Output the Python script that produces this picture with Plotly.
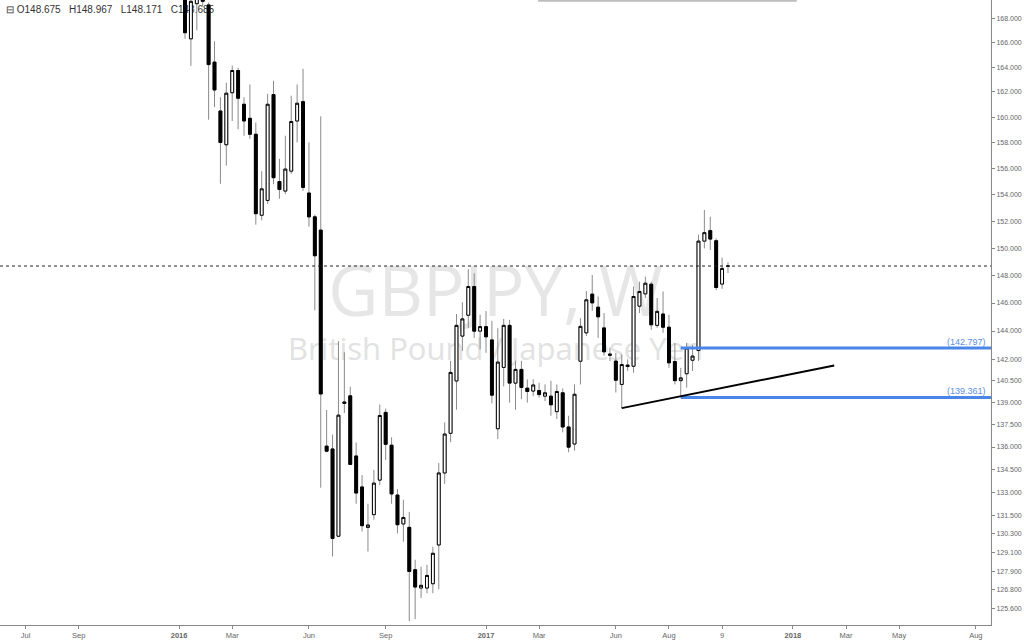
import math
import pandas as pd
import plotly.graph_objects as go

# ---------------- data (weekly GBPJPY candles) ----------------
first_week = "2016-01-11"

opens = [171.0, 166.3, 169.2, 170.1, 169.1, 164.4, 160.49, 157.84, 161.94, 163.72,
         161.02, 159.91, 158.66, 152.45, 153.57, 161.79, 155.0, 154.28, 155.8, 159.7,
         161.23, 154.13, 152.33, 151.34, 136.06, 135.87, 130.15, 138.95, 139.47, 135.4,
         133.35, 130.72, 131.54, 133.8, 138.34, 136.12, 132.82, 130.94, 130.72, 128.02,
         126.87, 126.87, 127.14, 129.59, 134.27, 136.92, 140.5, 143.64, 145.12, 147.19,
         143.99, 144.31, 143.37, 137.23, 141.44, 144.4, 140.35, 141.3, 140.0, 139.8,
         139.84, 139.45, 139.45, 138.39, 139.68, 137.35, 136.2, 141.87, 143.87, 146.64,
         145.7, 144.22, 142.28, 141.88, 140.26, 141.5, 141.52, 145.77, 146.66, 147.36,
         144.4, 145.21, 144.27, 141.85, 140.52, 141.0, 141.94, 142.62, 150.52, 151.3,
         150.55, 147.37, 148.675]

highs = [171.5, 169.8, 170.4, 170.6, 169.3, 166.1, 161.58, 162.74, 164.12, 163.94,
         161.58, 162.6, 159.58, 155.8, 161.85, 162.9, 156.75, 158.54, 161.7, 162.6,
         163.86, 158.02, 152.5, 160.07, 138.5, 136.83, 143.28, 142.5, 140.1, 136.3,
         134.13, 132.25, 134.46, 138.88, 138.6, 136.65, 133.21, 132.51, 131.72, 128.65,
         128.21, 128.33, 129.48, 134.93, 137.66, 141.9, 145.21, 146.06, 148.46, 148.15,
         145.16, 145.42, 144.72, 144.2, 144.86, 144.79, 141.9, 141.9, 140.61, 140.61,
         140.38, 140.26, 140.5, 140.26, 139.98, 138.11, 140.26, 144.91, 146.87, 148.03,
         146.47, 145.28, 142.82, 142.46, 142.34, 142.0, 147.19, 147.54, 147.91, 147.54,
         146.36, 146.83, 145.16, 143.16, 141.41, 143.16, 143.02, 151.0, 152.85, 152.34,
         150.72, 149.3, 148.967]

lows = [166.3, 164.1, 167.0, 169.0, 159.8, 160.8, 154.83, 156.22, 159.7, 159.05,
        158.54, 158.3, 151.75, 152.07, 153.3, 154.8, 153.7, 154.05, 155.6, 158.02,
        154.3, 151.6, 145.48, 133.3, 135.65, 128.86, 130.1, 138.3, 134.8, 132.25,
        130.45, 129.17, 131.21, 133.47, 135.13, 132.25, 130.33, 129.8, 124.82, 124.94,
        126.25, 126.54, 126.54, 126.79, 133.55, 136.33, 138.52, 142.6, 144.22, 143.51,
        142.69, 142.46, 138.95, 136.54, 140.12, 139.01, 138.52, 139.24, 139.01, 139.45,
        139.35, 139.11, 138.11, 137.89, 136.99, 135.65, 135.76, 140.26, 143.64, 145.44,
        143.51, 142.26, 141.88, 139.7, 138.63, 141.2, 141.07, 145.28, 146.36, 144.09,
        144.22, 143.87, 141.41, 140.26, 139.36, 140.04, 141.19, 141.9, 149.98, 149.86,
        146.93, 147.02, 148.171]

closes = [166.8, 169.4, 169.9, 169.4, 164.2, 162.16, 158.02, 161.9, 163.72, 161.5,
          159.7, 158.66, 152.57, 154.45, 161.02, 155.3, 154.4, 155.96, 159.66, 161.1,
          154.56, 152.33, 149.44, 139.6, 135.72, 130.01, 138.15, 139.05, 134.84, 132.95,
          130.83, 130.87, 133.6, 138.13, 136.18, 132.89, 130.89, 131.36, 127.91, 126.93,
          127.04, 127.66, 129.06, 134.27, 136.87, 141.09, 144.4, 144.86, 147.19, 143.99,
          144.31, 143.59, 139.52, 141.81, 144.4, 140.35, 141.3, 140.05, 139.77, 140.22,
          139.56, 139.68, 138.86, 139.77, 137.35, 135.99, 139.58, 144.33, 146.23, 146.01,
          145.01, 142.53, 142.37, 140.55, 141.64, 141.6, 146.47, 146.83, 147.43, 144.44,
          145.4, 144.27, 141.76, 140.52, 140.71, 142.79, 142.23, 150.52, 151.15, 150.67,
          147.12, 148.51, 148.685]

# horizontal levels and trendline
level_start = "2017-08-21"
levels = [142.797, 139.361]
level_labels = ["(142.797)", "(139.361)"]
trend_dates = ["2017-06-12", "2018-02-19"]
trend_prices = [138.63, 141.58]
last_price = 148.685
ohlc_text = "\u229f O148.675   H148.967   L148.171   C148.685"

# axis ticks
y_ticks = [168.0, 166.0, 164.0, 162.0, 160.0, 158.0, 156.0, 154.0, 152.0, 150.0, 148.0,
           146.0, 144.0, 142.0, 140.5, 139.0, 137.5, 136.0, 134.5, 133.0, 131.5, 130.3,
           129.1, 127.9, 126.8, 125.6]
x_tick_dates = ["2015-07-06", "2015-09-07", "2016-01-04", "2016-03-07", "2016-06-06",
                "2016-09-05", "2017-01-02", "2017-03-06", "2017-06-05", "2017-08-07",
                "2017-10-09", "2018-01-01", "2018-03-05", "2018-05-07", "2018-08-06"]
x_tick_labels = ["Jul", "Sep", "<b>2016</b>", "Mar", "Jun", "Sep", "<b>2017</b>", "Mar", "Jun",
                 "Aug", "9", "<b>2018</b>", "Mar", "May", "Aug"]

x_range = ["2015-06-05 14:00", "2018-08-23 23:00"]
y_range = [124.58, 169.51]

# ---------------- figure ----------------
dates = pd.date_range(first_week, periods=len(opens), freq="7D")
body_hi = [max(o, c) for o, c in zip(opens, closes)]
body_lo = [min(o, c) for o, c in zip(opens, closes)]

fig = go.Figure()

# wicks (grey)
fig.add_trace(go.Candlestick(
    x=dates, open=opens, high=highs, low=lows, close=closes,
    increasing=dict(line=dict(color="#8a8a8a", width=1), fillcolor="#ffffff"),
    decreasing=dict(line=dict(color="#8a8a8a", width=1), fillcolor="#000000"),
    whiskerwidth=0, showlegend=False, hoverinfo="skip"))

# bodies (black outline)
fig.add_trace(go.Candlestick(
    x=dates, open=opens, high=body_hi, low=body_lo, close=closes,
    increasing=dict(line=dict(color="#000000", width=1), fillcolor="#ffffff"),
    decreasing=dict(line=dict(color="#000000", width=1), fillcolor="#000000"),
    whiskerwidth=0, showlegend=False))

# last price dotted line
fig.add_trace(go.Scatter(
    x=x_range, y=[last_price, last_price], mode="lines",
    line=dict(color="#222222", width=1, dash="dot"), showlegend=False, hoverinfo="skip"))

# blue levels
for lv in levels:
    fig.add_trace(go.Scatter(
        x=[level_start, x_range[1]], y=[lv, lv], mode="lines",
        line=dict(color="#4a86e8", width=3), showlegend=False, hoverinfo="skip"))

# trendline
fig.add_trace(go.Scatter(
    x=trend_dates, y=trend_prices, mode="lines",
    line=dict(color="#000000", width=2), showlegend=False, hoverinfo="skip"))

shapes = [
    # watermark line 1
    dict(type="rect", xref="paper", yref="paper", x0=0.2, x1=0.8, y0=0.49, y1=0.57,
         line=dict(width=0), fillcolor="rgba(0,0,0,0)", layer="below",
         label=dict(text="GBPJPY, W", textposition="middle center",
                    font=dict(size=69, color="#e6e6e6", family="Open Sans"))),
    # watermark line 2
    dict(type="rect", xref="paper", yref="paper", x0=0.2, x1=0.8, y0=0.415, y1=0.465,
         line=dict(width=0), fillcolor="rgba(0,0,0,0)", layer="below",
         label=dict(text="British Pound / Japanese Yen", textposition="middle center",
                    font=dict(size=31, color="#e2e2e2", family="Open Sans"))),
    # OHLC legend
    dict(type="rect", xref="paper", yref="paper", x0=0.003, x1=0.4, y0=0.972, y1=1.0,
         line=dict(width=0), fillcolor="rgba(0,0,0,0)", layer="below",
         label=dict(text=ohlc_text, textposition="middle left", padding=0,
                    font=dict(size=10, color="#333333", family="Liberation Sans"))),
    # toolbar shadow at the top
    dict(type="line", xref="paper", yref="paper", x0=0.543, x1=0.804, y0=0.999, y1=0.999,
         line=dict(color="#bdbdbd", width=2)),
]

annotations = []
for lv, lab in zip(levels, level_labels):
    annotations.append(dict(
        xref="paper", yref="y", x=0.997, y=math.log10(lv), text=lab, showarrow=False,
        xanchor="right", yanchor="bottom", yshift=-1,
        font=dict(size=9, color="#5a8fe0", family="Liberation Sans")))

fig.update_layout(
    width=1024, height=640,
    margin=dict(l=0, r=33, t=0, b=11),
    paper_bgcolor="#ffffff", plot_bgcolor="#ffffff",
    shapes=shapes, annotations=annotations,
    showlegend=False,
    xaxis=dict(
        type="date", range=x_range, rangeslider=dict(visible=False),
        tickmode="array", tickvals=x_tick_dates, ticktext=x_tick_labels,
        ticks="outside", ticklen=3, tickcolor="#888888",
        tickfont=dict(size=7.5, color="#666666", family="Liberation Sans"),
        showgrid=False, zeroline=False,
        showline=True, linecolor="#888888", linewidth=1,
    ),
    yaxis=dict(
        type="log", side="right",
        range=[math.log10(y_range[0]), math.log10(y_range[1])],
        tickmode="array", tickvals=y_ticks, ticktext=[f"{v:.3f}" for v in y_ticks],
        ticks="outside", ticklen=3, tickcolor="#888888",
        tickfont=dict(size=7, color="#666666", family="Liberation Sans"),
        showgrid=False, zeroline=False,
        showline=True, linecolor="#888888", linewidth=1,
    ),
)

fig.write_html(
    "out.html",
    config={"displayModeBar": False},
    post_script="document.body.style.margin='0';document.body.style.overflow='hidden';",
)
